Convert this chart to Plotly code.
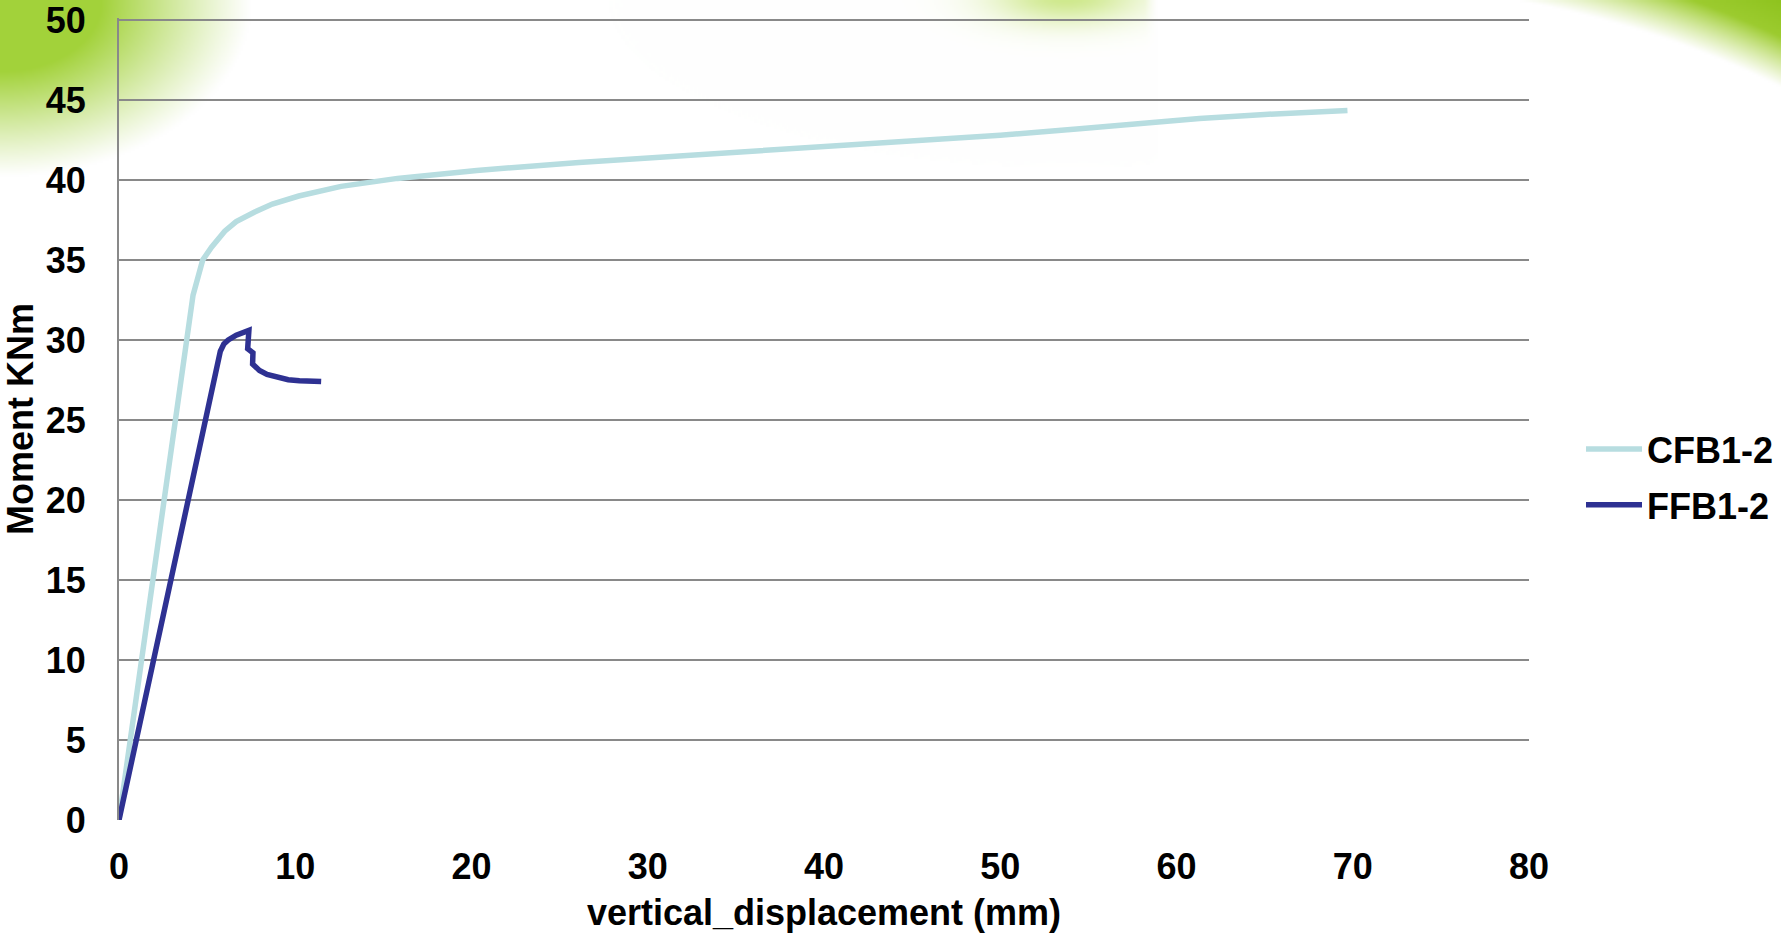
import base64
import struct
import zlib

import numpy as np
import plotly.graph_objects as go

# ---- data ---------------------------------------------------------------
cfb_disp = [0, 2.9, 4.2, 4.75, 5.25, 6.0, 6.65, 7.7, 8.7, 10.2, 12.6, 15.8,
            20.3, 26.1, 31.9, 40.0, 46.1, 50.0, 54.5, 58.0, 61.3, 65.0, 69.7]
cfb_moment = [0, 22.5, 32.8, 35.0, 35.8, 36.8, 37.4, 38.0, 38.5, 39.0, 39.6, 40.1,
              40.6, 41.1, 41.5, 42.1, 42.5, 42.8, 43.2, 43.55, 43.85, 44.1, 44.35]

ffb_disp = [0, 4.38, 5.6, 5.75, 5.95, 6.2, 6.65, 7.0, 7.37, 7.3, 7.6, 7.58,
            7.97, 8.4, 8.92, 9.6, 10.24, 11.47]
ffb_moment = [0, 22.5, 28.6, 29.3, 29.75, 30.0, 30.3, 30.45, 30.6, 29.45, 29.2, 28.5,
              28.1, 27.85, 27.68, 27.52, 27.46, 27.4]

series_names = ["CFB1-2", "FFB1-2"]
series_colors = ["#B7DDE0", "#2E3192"]

x_ticks = [0, 10, 20, 30, 40, 50, 60, 70, 80]
y_ticks = [0, 5, 10, 15, 20, 25, 30, 35, 40, 45, 50]

# ---- page geometry --------------------------------------------------------
W, H = 1781, 933
ML, MR, MT, MB = 119, 252, 18, 113
PW, PH = W - ML - MR, H - MT - MB
Y_TOP = 50 + 2 / 16.0   # a little headroom so the 50 gridline is drawn


# ---- soft green slide background, rendered to an inline PNG ---------------
def background_png(scale=2):
    w, h = W // scale, H // scale
    yy, xx = np.mgrid[0:h, 0:w].astype(float)
    xx *= scale
    yy *= scale
    rgb = np.ones((h, w, 3)) * 255.0

    def blend(alpha, color):
        a = np.clip(alpha, 0, 1)[..., None]
        rgb[:] = rgb * (1 - a) + np.array(color, float) * a

    # top-left swoosh
    r = np.sqrt((xx / 250.0) ** 2 + (yy / 175.0) ** 2)
    a_tl = np.clip((1.0 - r) / 0.6, 0, 1) ** 1.1
    blend(a_tl * 0.95, (158, 208, 48))

    # top-middle faint blob
    g = np.exp(-(((xx - 1065) / 75.0) ** 2) - ((yy + 5) / 28.0) ** 2)
    cut = np.clip((1155 - xx) / 12.0, 0, 1)
    blend(g * cut * 0.75, (190, 225, 100))

    # top-right swoosh (outside a large arc, limited to the corner)
    d = np.sqrt((xx - 1350) ** 2 + (yy - 950) ** 2)
    corner = np.clip((xx - 1460) / 40.0, 0, 1) * np.clip((320 - yy) / 40.0, 0, 1)
    a_tr = np.clip((d - 965) / 45.0, 0, 1) * corner
    depth = np.clip((d - 965) / 140.0, 0, 1)
    col_light = np.array([175, 215, 70], float)
    col_dark = np.array([118, 180, 0], float)
    col = col_light[None, None, :] * (1 - depth[..., None]) + col_dark[None, None, :] * depth[..., None]
    a = a_tr[..., None]
    rgb[:] = rgb * (1 - a) + col * a

    img = np.clip(rgb, 0, 255).astype(np.uint8)
    raw = b"".join(b"\x00" + img[i].tobytes() for i in range(h))

    def chunk(tag, data):
        c = struct.pack(">I", len(data)) + tag + data
        return c + struct.pack(">I", zlib.crc32(tag + data) & 0xFFFFFFFF)

    png = b"\x89PNG\r\n\x1a\n"
    png += chunk(b"IHDR", struct.pack(">IIBBBBB", w, h, 8, 2, 0, 0, 0))
    png += chunk(b"IDAT", zlib.compress(raw, 9))
    png += chunk(b"IEND", b"")
    return "data:image/png;base64," + base64.b64encode(png).decode()


FONT = "Liberation Sans, Arial, sans-serif"
BOLD36 = dict(family=FONT, size=36, color="black", weight="bold")

fig = go.Figure()
for name, xs, ys, color in zip(series_names, [cfb_disp, ffb_disp],
                               [cfb_moment, ffb_moment], series_colors):
    fig.add_trace(go.Scatter(
        x=xs, y=ys, name=name, mode="lines", legendgroup=name,
        line=dict(color=color, width=5.5),
    ))

fig.update_layout(
    width=W, height=H,
    margin=dict(l=ML, r=MR, t=MT, b=MB, autoexpand=False),
    paper_bgcolor="white",
    plot_bgcolor="rgba(0,0,0,0)",
    font=BOLD36,
    images=[dict(
        source=background_png(),
        xref="paper", yref="paper",
        x=-ML / PW, y=1 + MT / PH,
        sizex=W / PW, sizey=H / PH,
        xanchor="left", yanchor="top",
        sizing="stretch", layer="below",
    )],
    legend=dict(
        x=(1581 - ML) / PW, xanchor="left",
        y=(820 - 477) / PH, yanchor="middle",
        bgcolor="rgba(0,0,0,0)",
        font=BOLD36,
        itemwidth=56,
        tracegroupgap=6,
    ),
    showlegend=True,
)

fig.update_xaxes(
    range=[0, 80], tickvals=x_ticks, ticktext=[str(v) for v in x_ticks],
    showgrid=False, zeroline=False, automargin=False,
    showline=False, ticks="",
    tickfont=BOLD36,
    ticklabelstandoff=22,
    title=dict(text="vertical_displacement (mm)", font=BOLD36, standoff=14),
)
fig.update_yaxes(
    range=[0, Y_TOP], tickvals=y_ticks, ticktext=[str(v) for v in y_ticks],
    showgrid=True, gridcolor="#898989", gridwidth=2,
    zeroline=False, showline=True, linecolor="#898989", linewidth=2,
    ticks="", automargin=False, ticklabeloverflow="allow",
    tickfont=BOLD36,
    ticklabelstandoff=24,
    title=dict(text="Moment KNm", font=BOLD36, standoff=8),
)

fig.write_html("out.html")
